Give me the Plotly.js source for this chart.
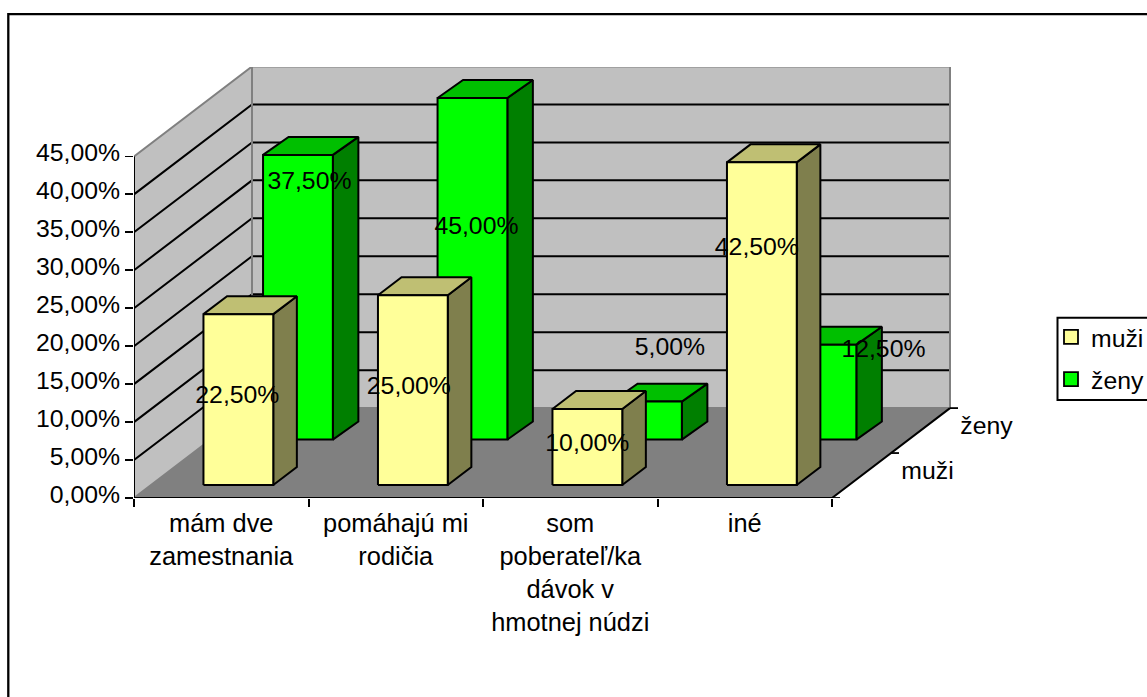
<!DOCTYPE html>
<html>
<head>
<meta charset="utf-8">
<script src="https://cdn.plot.ly/plotly-3.0.1.min.js"></script>
<style>html,body{margin:0;padding:0;background:#fff;overflow:hidden}</style>
</head>
<body>
<div id="chart" style="width:1147px;height:697px"></div>
<script>
// ---- data ----
const categories = ['mám dve<br>zamestnania', 'pomáhajú mi<br>rodičia', 'som<br>poberateľ/ka<br>dávok v<br>hmotnej núdzi', 'iné'];
const muzi = [22.5, 25, 10, 42.5];
const zeny = [37.5, 45, 5, 12.5];
const valueTicks = [0, 5, 10, 15, 20, 25, 30, 35, 40, 45];
const seriesNames = ['muži', 'ženy'];

// ---- layout constants (pixels of the picture) ----
const W = 1147, H = 697;
const L = 134, R = 1045, T = 66.5, B = 498;  // plot area runs past the back wall so the depth labels stay in range
const PX_X = 174.5, PX_Y = 7.6;           // px per category, px per percent
const DEPTH_X = 118, DEPTH_Y = 90;        // oblique offset of the back wall
const FONT = 'Liberation Sans, Arial, sans-serif';
const FS = 24.8;
const nCat = categories.length, vMax = valueTicks[valueTicks.length - 1];

// oblique projection: category position c, depth d (0-1), value v -> data coords
const X = (c, d) => c + d * DEPTH_X / PX_X;
const Y = (d, v) => v + d * DEPTH_Y / PX_Y;

function poly(name, rings, fill, color, width) {
  const x = [], y = [];
  rings.forEach((r, i) => {
    if (i) { x.push(null); y.push(null); }
    r.forEach(p => { x.push(X(p[0], p[1])); y.push(Y(p[1], p[2])); });
    x.push(X(r[0][0], r[0][1])); y.push(Y(r[0][1], r[0][2]));
  });
  return { type: 'scatter', mode: width ? 'lines' : 'none', name, x, y, fill: 'toself', fillcolor: fill,
    line: { color: color || fill, width: width || 0 }, hoverinfo: 'skip', showlegend: false, cliponaxis: false };
}
function lines(name, segs, color, width) {
  const x = [], y = [];
  segs.forEach(s => {
    s.forEach(p => { x.push(X(p[0], p[1])); y.push(Y(p[1], p[2])); });
    x.push(null); y.push(null);
  });
  return { type: 'scatter', mode: 'lines', name, x, y, line: { color, width }, hoverinfo: 'skip', showlegend: false, cliponaxis: false };
}

const traces = [];
// walls and floor
traces.push(poly('side wall', [[[0,0,0],[0,1,0],[0,1,vMax],[0,0,vMax]]], '#C0C0C0'));
traces.push(poly('back wall', [[[0,1,0],[nCat,1,0],[nCat,1,vMax],[0,1,vMax]]], '#C0C0C0'));
traces.push(poly('floor', [[[0,0,0],[nCat,0,0],[nCat,1,0],[0,1,0]]], '#808080'));
// grid
const grid = valueTicks.filter(v => v > 0 && v < vMax);
traces.push(lines('grid', grid.map(v => [[0,0,v],[0,1,v],[nCat,1,v]]), '#000', 2));
traces.push(lines('wall edge', [[[0,0,vMax],[0,1,vMax],[nCat,1,vMax],[nCat,1,0]], [[0,1,0],[0,1,vMax]], [[0,0,0],[0,1,0],[nCat,1,0]]], '#808080', 2));

// bars, back row first
const BAR0 = 0.3, BAR1 = 0.7, DEPTH = 0.2;
function row(vals, d0, colors, skew) {
  const d1 = d0 + DEPTH;
  const side = vals.map((v,i) => [[i+BAR1,d0,0],[i+BAR1+skew,d1,0],[i+BAR1+skew,d1,v],[i+BAR1,d0,v]]);
  const top = vals.map((v,i) => [[i+BAR0,d0,v],[i+BAR1,d0,v],[i+BAR1+skew,d1,v],[i+BAR0+skew,d1,v]]);
  const front = vals.map((v,i) => [[i+BAR0,d0,0],[i+BAR1,d0,0],[i+BAR1,d0,v],[i+BAR0,d0,v]]);
  traces.push(poly('side', side, colors.side, '#000', 2));
  traces.push(poly('top', top, colors.top, '#000', 2));
  traces.push(poly('front', front, colors.front, '#000', 2));
}
const GREEN = { front: '#00FF00', top: '#00BF00', side: '#007F00' };
const YELLOW = { front: '#FFFF99', top: '#BFBF73', side: '#7F7F4D' };
const D_ZENY = 0.65, D_MUZI = 0.145;
row(zeny, D_ZENY, GREEN, 0.011);
row(muzi, D_MUZI, YELLOW, 0);

// axes drawn on the projection
traces.push(lines('axes', [[[0,0,vMax],[0,0,0],[nCat,0,0],[nCat,1,0]]], '#000', 2));
[0, 0.5, 1].forEach(d => traces.push({ type:'scatter', mode:'lines', x:[X(nCat,d), X(nCat,d) + 8/PX_X], y:[Y(d,0), Y(d,0)],
  line:{color:'#000',width:1.8}, hoverinfo:'skip', showlegend:false, cliponaxis:false }));

// value labels: nudged from the top-centre of each bar's front, as placed in the picture
const fmt = v => v.toFixed(2).replace('.', ',') + '%';
const nudgeMuzi = [[-1,82.5],[-4,92.5],[0,35.5],[-5,86.5]];
const nudgeZeny = [[11.5,27.5],[4,130.5],[23,-52.5],[62,6.5]];
function labels(vals, d0, nudge) {
  return { type:'scatter', mode:'text', textposition:'middle center', cliponaxis:false, showlegend:false, hoverinfo:'skip',
    x: vals.map((v,i) => X(i+0.5, d0) + nudge[i][0]/PX_X),
    y: vals.map((v,i) => Y(d0, v) - nudge[i][1]/PX_Y),
    text: vals.map(fmt), textfont: { family: FONT, size: FS, color: '#000' } };
}
traces.push(labels(zeny, D_ZENY, nudgeZeny));
traces.push(labels(muzi, D_MUZI, nudgeMuzi));

// depth axis labels
traces.push({ type:'scatter', mode:'text', textposition:'middle center', cliponaxis:false, showlegend:false, hoverinfo:'skip',
  x: [0.25, 0.75].map(d => X(nCat,d) + 66/PX_X), y: [0.25, 0.75].map(d => Y(d,0) + 3/PX_Y),
  text: seriesNames, textfont: { family: FONT, size: FS, color: '#000' } });

// legend entries
[[seriesNames[0], YELLOW.front], [seriesNames[1], GREEN.front]].forEach((s, i) => traces.push({
  type:'scatter', mode:'markers', name:s[0], legendgroup:s[0], x:[null], y:[null],
  marker:{ symbol:'square', size:14, color:s[1], line:{color:'#000', width:1.8} }, hoverinfo:'skip'
}));

const px = x => (x - L) / (R - L), py = y => (B - y) / (B - T);
const layout = {
  width: W, height: H, autosize: false,
  margin: { l: L, r: W - R, t: T, b: H - B, pad: 0, autoexpand: false },
  paper_bgcolor: '#fff', plot_bgcolor: 'rgba(0,0,0,0)',
  font: { family: FONT, size: FS, color: '#000' },
  showlegend: true,
  legend: { x: px(1051), xanchor: 'left', y: py(314), yanchor: 'top', xref:'paper', yref:'paper',
    bgcolor:'rgba(0,0,0,0)', borderwidth:0, tracegroupgap: 7, traceorder:'grouped', font:{family:FONT,size:FS,color:'#000'} },
  xaxis: { range: [0, (R - L) / PX_X], showgrid:false, zeroline:false, showline:false,
    tickmode:'array', tickvals: categories.map((c,i) => i + 0.5), ticktext: categories,
    tickfont:{family:FONT,size:25.4,color:'#000'},
    ticks:'', tickangle:0, ticklabelstandoff: 8, fixedrange:true,
    minor:{ tickmode:'array', tickvals:[0,1,2,3,4], ticks:'outside', ticklen:8, tickwidth:2, tickcolor:'#000', showgrid:false } },
  yaxis: { range: [0, (B - T) / PX_Y], showgrid:false, zeroline:false, showline:false,
    tickmode:'array', tickvals: valueTicks, ticktext: valueTicks.map(fmt), ticklabelshift: -4,
    ticks:'outside', ticklen:8, tickwidth:1.8, tickcolor:'#000', fixedrange:true },
  shapes: [
    { type:'rect', xref:'paper', yref:'paper', x0: px(8.3), x1: px(1250), y0: py(13.5), y1: py(800), line:{color:'#000', width:2.3}, fillcolor:'rgba(0,0,0,0)', layer:'below' },
    { type:'rect', xref:'paper', yref:'paper', x0: px(1057.5), x1: px(1200), y0: py(317.5), y1: py(400), line:{color:'#000', width:2}, fillcolor:'rgba(0,0,0,0)', layer:'below' }
  ]
};
Plotly.newPlot('chart', traces, layout, { displayModeBar:false, staticPlot:true });
</script>
</body>
</html>
